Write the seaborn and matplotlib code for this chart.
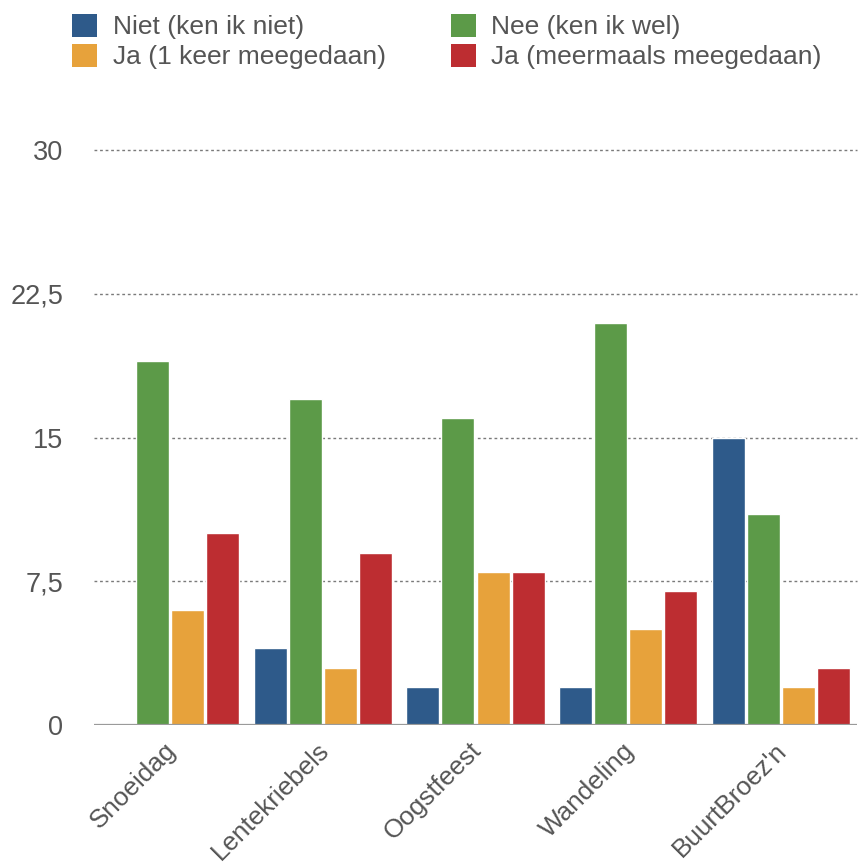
import matplotlib
matplotlib.use("Agg")
import matplotlib.pyplot as plt
from matplotlib.patches import Patch
from matplotlib.transforms import ScaledTranslation
import seaborn as sns
import pandas as pd

# Activities and answer categories
activities = ["Snoeidag", "Lentekriebels", "Oogstfeest", "Wandeling", "BuurtBroez'n"]
answers = ["Niet (ken ik niet)", "Nee (ken ik wel)", "Ja (1 keer meegedaan)", "Ja (meermaals meegedaan)"]

# Counts per answer, one value per activity
niet = [0, 4, 2, 2, 15]
nee = [19, 17, 16, 21, 11]
ja_een = [6, 3, 8, 5, 2]
ja_meer = [10, 9, 8, 7, 3]

y_ticks = [0, 7.5, 15, 22.5, 30]
y_tick_labels = ["0", "7,5", "15", "22,5", "30"]

colors = ["#2e5a8a", "#5c9a48", "#e7a23b", "#bd2d31"]

rows = []
for ans, vals in zip(answers, [niet, nee, ja_een, ja_meer]):
    for act, v in zip(activities, vals):
        rows.append({"Activiteit": act, "Antwoord": ans, "Aantal": v})
df = pd.DataFrame(rows)

sns.set_theme(style="white")
plt.rcParams["font.family"] = ["Liberation Sans", "DejaVu Sans"]

fig = plt.figure(figsize=(8.58, 8.68), dpi=100)
ax = fig.add_axes([94 / 858, 1 - 725 / 868, 763 / 858, 575 / 868])

sns.barplot(
    data=df, x="Activiteit", y="Aantal", hue="Antwoord",
    order=activities, hue_order=answers, palette=colors,
    width=0.92, gap=0.06, saturation=1, legend=False, ax=ax,
)

ax.set_xlim(-0.5, len(activities) - 0.5)
ax.set_ylim(0, 30)
ax.set_xlabel("")
ax.set_ylabel("")
for s in ax.spines.values():
    s.set_visible(False)

# dotted horizontal grid and solid baseline
for yv in y_ticks[1:]:
    ax.axhline(yv, color="#7a7a7a", lw=1.0, linestyle=(0, (2, 2)), zorder=0, clip_on=False)
ax.axhline(0, color="#9a9a9a", lw=1.6, zorder=3)

ax.set_yticks(y_ticks)
ax.set_yticklabels(y_tick_labels)
ax.tick_params(axis="y", length=0, pad=22, labelsize=19.5, labelcolor="#555555")
ax.tick_params(axis="x", length=0, pad=8, labelsize=18.8, labelcolor="#555555")
shift = ScaledTranslation(-6 / 100, -2 / 100, fig.dpi_scale_trans)
for lbl in ax.get_xticklabels():
    lbl.set_rotation(45)
    lbl.set_ha("right")
    lbl.set_va("top")
    lbl.set_rotation_mode("anchor")
    lbl.set_transform(lbl.get_transform() + shift)

handles = [Patch(facecolor=c, edgecolor="none") for c in colors]
order = [0, 2, 1, 3]
fig.legend(
    [handles[i] for i in order], [answers[i] for i in order],
    ncol=2, loc="upper left", bbox_to_anchor=(72 / 858, 1 - 14 / 868),
    frameon=False, fontsize=19, labelcolor="#555555",
    handlelength=0.95, handleheight=0.95, handletextpad=0.6,
    columnspacing=2.45, labelspacing=0.17, borderaxespad=0, borderpad=0,
)

fig.savefig("out.png", dpi=100, facecolor="white")
